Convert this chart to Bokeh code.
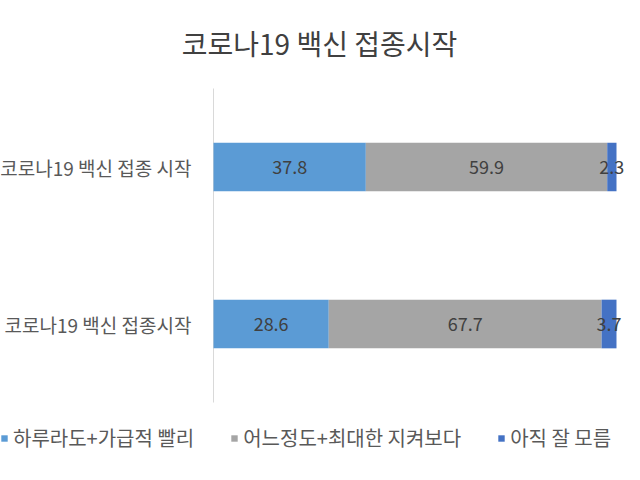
from bokeh.plotting import figure
from bokeh.models import (ColumnDataSource, LabelSet, Label, Legend, LegendItem, Range1d)
from bokeh.core.properties import value
from bokeh.embed import file_html
from bokeh.resources import INLINE

# ---- data ----
title_text = "코로나19 백신 접종시작"
categories = ["코로나19 백신 접종시작", "코로나19 백신 접종 시작"]   # bottom, top
series_names = ["하루라도+가급적 빨리", "어느정도+최대한 지켜보다", "아직 잘 모름"]
soon = [28.6, 37.8]
wait = [67.7, 59.9]
unsure = [3.7, 2.3]
colors = ["#5B9BD5", "#A5A5A5", "#4472C4"]

FONT = "Noto Sans CJK KR"
W, H = 624, 464
# layout (pixels): plot area for 0..100 spans x 213..616, y 88..402
PX_L, PX_R, PX_T, PX_B = 213, 616, 88, 402
n = len(categories)
ppx = (PX_R - PX_L) / 100.0
ppy = (PX_B - PX_T) / n

ypos = [i + 0.5 for i in range(n)]
keys = ["soon", "wait", "unsure"]
src = ColumnDataSource(dict(y=ypos, cat=categories, soon=soon, wait=wait, unsure=unsure))

p = figure(width=W, height=H, output_backend="svg", toolbar_location=None,
           x_range=Range1d(-PX_L / ppx, (W - PX_L) / ppx),
           y_range=Range1d(-(H - PX_B) / ppy, n + PX_T / ppy),
           min_border=0, min_border_left=0, min_border_right=0,
           min_border_top=0, min_border_bottom=0)
p.outline_line_color = None
p.xgrid.visible = False
p.ygrid.visible = False
p.xaxis.visible = False
p.yaxis.visible = False
p.background_fill_color = "white"
p.border_fill_color = "white"

# category axis line
p.segment(x0=[0], y0=[0], x1=[0], y1=[n], line_color="#D9D9D9", line_width=1)

rs = p.hbar_stack(keys, y="y", height=0.31, color=colors, source=src, line_color=None)

# segment centers for value labels
for i, k in enumerate(keys):
    left = [sum(vals) for vals in zip(*[src.data[kk] for kk in keys[:i]])] if i else [0] * n
    vals = src.data[k]
    mids = [l + v / 2 for l, v in zip(left, vals)]
    lsrc = ColumnDataSource(dict(x=mids, y=ypos, t=[f"{v:.1f}" for v in vals]))
    p.add_layout(LabelSet(x="x", y="y", text="t", source=lsrc, text_align="center",
                          text_baseline="middle", text_font=value(FONT),
                          text_font_size="18px", text_color="#404040"))

# category labels (left)
for yv, c in zip(ypos, categories):
    p.add_layout(Label(x=0, y=yv, x_offset=-22, text=c, text_align="right",
                       text_baseline="middle", text_font=FONT,
                       text_font_size="19px", text_color="#595959"))

# title
p.add_layout(Label(x=0, y=n, x_offset=106, y_offset=46, text=title_text,
                   text_align="center", text_baseline="middle", text_font=FONT,
                   text_font_size="28px", text_color="#404040"))

legend = Legend(items=[LegendItem(label=s, renderers=[r]) for s, r in zip(series_names, rs)],
                orientation="horizontal", location=(0, 12))
legend.glyph_width = 8
legend.glyph_height = 8
legend.label_standoff = 5
legend.spacing = 36
legend.padding = 0
legend.margin = 0
legend.border_line_color = None
legend.background_fill_alpha = 0
legend.label_text_font = FONT
legend.label_text_font_size = "20px"
legend.label_text_color = "#595959"
p.add_layout(legend, "center")

open("out.html", "w").write(file_html(p, INLINE))
